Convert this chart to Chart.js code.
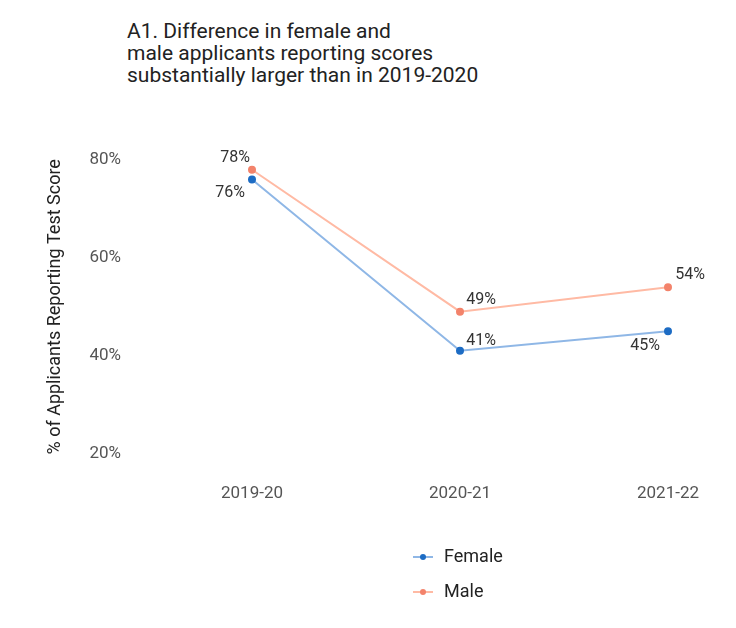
<!DOCTYPE html>
<html>
<head>
<meta charset="utf-8">
<script src="https://cdn.jsdelivr.net/npm/chart.js@4.4.0/dist/chart.umd.min.js"></script>
<style>
  html, body { margin: 0; padding: 0; background: #fff; }
  .wrap { position: relative; width: 736px; height: 628px; }
  .title {
    position: absolute; left: 127px; top: 20px;
    font: 21px Roboto, sans-serif; line-height: 22px; color: #222;
  }
  canvas { position: absolute; left: 0; top: 0; }
</style>
</head>
<body>
<div class="wrap">
  <div class="title">A1. Difference in female and<br>male applicants reporting scores<br>substantially larger than in 2019-2020</div>
  <canvas id="chart" width="736" height="628"></canvas>
</div>
<script>
const years = ['2019-20', '2020-21', '2021-22'];
const female = [76, 41, 45];
const male = [78, 49, 54];
const yTicks = [20, 40, 60, 80];

// where each value label sits relative to its point (dx, dy)
const labelOffsets = {
  Female: [[-22, 13], [21, -10], [-23, 15]],
  Male: [[-17, -12], [21, -12], [22, -12]],
};

const valueLabels = {
  id: 'valueLabels',
  afterDatasetsDraw(chart) {
    const ctx = chart.ctx;
    ctx.save();
    ctx.font = '16px Roboto, sans-serif';
    ctx.fillStyle = '#333';
    ctx.textAlign = 'center';
    ctx.textBaseline = 'middle';
    chart.data.datasets.forEach((ds, i) => {
      chart.getDatasetMeta(i).data.forEach((pt, j) => {
        const off = labelOffsets[ds.label][j];
        ctx.fillText(ds.data[j] + '%', pt.x + off[0], pt.y + off[1]);
      });
    });
    ctx.restore();
  }
};

const stackedLegend = {
  id: 'stackedLegend',
  afterDraw(chart) {
    const ctx = chart.ctx;
    ctx.save();
    ctx.font = '18px Roboto, sans-serif';
    ctx.textBaseline = 'middle';
    chart.data.datasets.forEach((ds, i) => {
      const y = 557 + i * 35;
      ctx.strokeStyle = ds.borderColor;
      ctx.lineWidth = 2;
      ctx.beginPath();
      ctx.moveTo(413, y);
      ctx.lineTo(433, y);
      ctx.stroke();
      ctx.fillStyle = ds.pointBackgroundColor;
      ctx.beginPath();
      ctx.arc(423, y, 3, 0, Math.PI * 2);
      ctx.fill();
      ctx.fillStyle = '#222';
      ctx.fillText(ds.label, 444, y);
    });
    ctx.restore();
  }
};

new Chart(document.getElementById('chart'), {
  type: 'line',
  data: {
    labels: years,
    datasets: [
      {
        label: 'Female',
        data: female,
        borderColor: '#8fb7e6',
        pointBackgroundColor: '#1d6cc4',
        pointBorderColor: '#1d6cc4',
        borderWidth: 2,
        pointRadius: 3,
        tension: 0,
      },
      {
        label: 'Male',
        data: male,
        borderColor: '#ffbaa4',
        pointBackgroundColor: '#f3836b',
        pointBorderColor: '#f3836b',
        borderWidth: 2,
        pointRadius: 3,
        tension: 0,
      },
    ],
  },
  options: {
    responsive: false,
    animation: false,
    layout: { padding: { left: 41, right: 68, top: 160, bottom: 94 } },
    plugins: {
      legend: { display: false },
      tooltip: { enabled: false },
    },
    scales: {
      x: {
        offset: false,
        border: { display: false },
        grid: { display: false, drawTicks: false },
        ticks: {
          padding: 30,
          color: '#555',
          font: { family: 'Roboto', size: 17 },
        },
      },
      y: {
        min: 20,
        max: 80,
        border: { display: false },
        grid: { display: false, drawTicks: false },
        afterBuildTicks: (scale) => { scale.ticks = yTicks.map(v => ({ value: v })); },
        afterFit: (scale) => { scale.width = 211; },
        ticks: {
          padding: 131,
          color: '#555',
          font: { family: 'Roboto', size: 17 },
          callback: (v) => v + '%',
        },
        title: {
          display: true,
          text: '% of Applicants Reporting Test Score',
          color: '#222',
          font: { family: 'Roboto', size: 18 },
        },
      },
    },
  },
  plugins: [valueLabels, stackedLegend],
});
</script>
</body>
</html>
